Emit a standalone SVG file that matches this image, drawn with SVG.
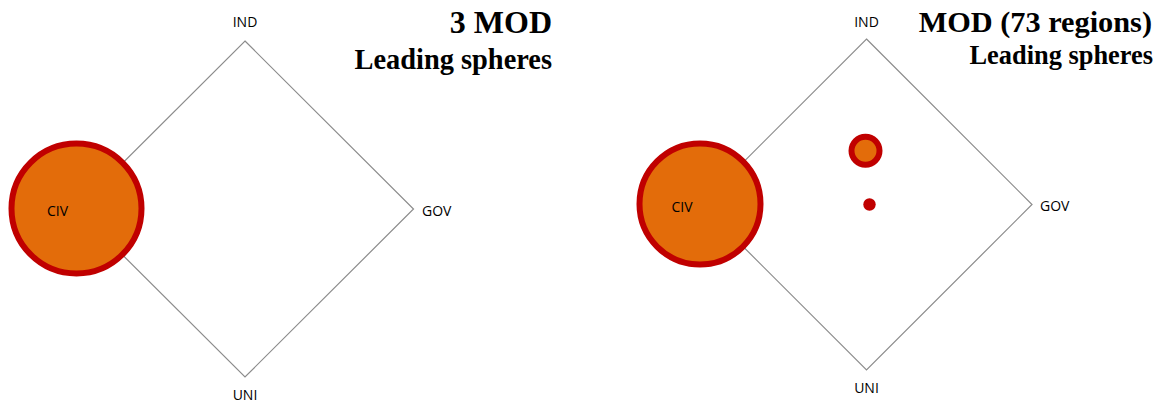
<svg xmlns="http://www.w3.org/2000/svg" width="1158" height="403" viewBox="0 0 1158 403">
<style>
.axis{fill:none;stroke:#8c8c8c;stroke-width:1.2}
.lbl{font-family:"Open Sans","Liberation Sans",sans-serif;font-size:14px;fill:#000}
.ttl{font-family:"Liberation Serif","Times New Roman",serif;font-weight:bold;fill:#000;text-anchor:end}
.sph{fill:#E36C0A;stroke:#C00000;stroke-width:6}
.dot{fill:#C00000}
</style>
<rect width="1158" height="403" fill="#fff"/>
<g id="connectors">
<polygon class="axis" points="245,41 413.5,209 245,377 76.5,209"/>
<polygon class="axis" points="866.5,39 1032,204.5 866.5,370 701,204.5"/>
</g>
<g id="panel-left">
<g id="left-civ-sphere"><circle class="sph" cx="76.5" cy="208.5" r="65"/></g>
<g id="left-ind"><text class="lbl" x="245" y="27" text-anchor="middle">IND</text></g>
<g id="left-gov"><text class="lbl" x="422" y="216">GOV</text></g>
<g id="left-uni"><text class="lbl" x="245" y="400" text-anchor="middle">UNI</text></g>
<g id="left-civ"><text class="lbl" x="47" y="216">CIV</text></g>
<g id="left-title">
<text class="ttl" x="552" y="33" font-size="32">3 MOD</text>
<text class="ttl" x="552" y="69" font-size="28.4">Leading spheres</text>
</g>
</g>
<g id="panel-right">
<g id="right-civ-sphere"><circle class="sph" cx="700" cy="204" r="60.5"/></g>
<g id="right-mid-sphere"><circle class="sph" cx="865.5" cy="150.7" r="14"/></g>
<g id="right-dot"><circle class="dot" cx="869.5" cy="204.5" r="6.2"/></g>
<g id="right-ind"><text class="lbl" x="866.5" y="27" text-anchor="middle">IND</text></g>
<g id="right-gov"><text class="lbl" x="1040" y="211">GOV</text></g>
<g id="right-uni"><text class="lbl" x="866.5" y="393" text-anchor="middle">UNI</text></g>
<g id="right-civ"><text class="lbl" x="671.5" y="212">CIV</text></g>
<g id="right-title">
<text class="ttl" x="1152" y="31.5" font-size="30.3">MOD (73 regions)</text>
<text class="ttl" x="1153" y="63.5" font-size="26.4">Leading spheres</text>
</g>
</g>
</svg>
